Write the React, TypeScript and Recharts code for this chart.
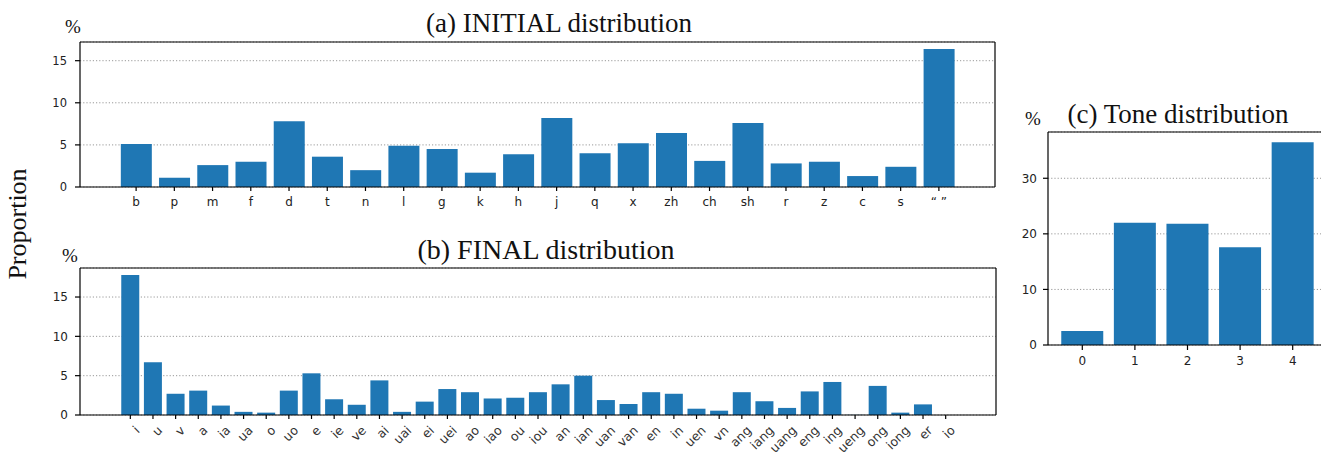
import React from "react";
import { BarChart, Bar, XAxis, YAxis, CartesianGrid } from "recharts";

const initials = ["b", "p", "m", "f", "d", "t", "n", "l", "g", "k", "h", "j", "q", "x", "zh", "ch", "sh", "r", "z", "c", "s", "“ ”"];
const initialValues = [5.1, 1.1, 2.6, 3.0, 7.8, 3.6, 2.0, 4.9, 4.5, 1.7, 3.9, 8.2, 4.0, 5.2, 6.4, 3.1, 7.6, 2.8, 3.0, 1.3, 2.4, 16.4];

const finals = [
  "i", "u", "v", "a", "ia", "ua", "o", "uo", "e", "ie", "ve", "ai", "uai", "ei", "uei", "ao", "iao", "ou", "iou",
  "an", "ian", "uan", "van", "en", "in", "uen", "vn", "ang", "iang", "uang", "eng", "ing", "ueng", "ong", "iong", "er", "io",
];
const finalValues = [
  17.8, 6.7, 2.7, 3.1, 1.2, 0.4, 0.3, 3.1, 5.3, 2.0, 1.3, 4.4, 0.4, 1.7, 3.3, 2.9, 2.1, 2.2, 2.9,
  3.9, 5.0, 1.9, 1.4, 2.9, 2.7, 0.8, 0.55, 2.9, 1.75, 0.9, 3.0, 4.2, 0.02, 3.7, 0.3, 1.35, 0,
];

const tones = ["0", "1", "2", "3", "4"];
const toneValues = [2.5, 22.0, 21.8, 17.6, 36.5];

const initialTicks = [0, 5, 10, 15];
const finalTicks = [0, 5, 10, 15];
const toneTicks = [0, 10, 20, 30];

const BLUE = "#1f77b4";
const SANS = '"DejaVu Sans", sans-serif';
const SERIF = '"Liberation Serif", "Times New Roman", serif';

const initialData = initials.map((name, i) => ({ name, value: initialValues[i] }));
const finalData = finals.map((name, i) => ({ name, value: finalValues[i] }));
const toneData = tones.map((name, i) => ({ name, value: toneValues[i] }));

const frame = { stroke: "#000", strokeWidth: 1.2 };
const tickText = { fontSize: 12, fill: "#222", fontFamily: SANS };
const autoTop = (max: number) => max * 1.05;

// slanted final labels: right end sits just beside the tick
const renderSlantTick = (props: any) => {
  const { x, y, payload } = props;
  return (
    <g transform={`translate(${x + 4},${y}) rotate(-45)`}>
      <text x={0} y={0} dy="0.7em" textAnchor="end" fontSize={12.5} fontFamily={SANS} fill="#333">
        {payload.value}
      </text>
    </g>
  );
};

// extra top / right axes only draw the box around the plot
const boxAxes = () => [
  <XAxis key="top" xAxisId="top" orientation="top" dataKey="name" height={1} tick={false} tickLine={false} axisLine={frame} />,
  <YAxis key="right" yAxisId="r" orientation="right" width={1} tick={false} tickLine={false} axisLine={frame} />,
];

export default function App() {
  return (
    <div style={{ position: "fixed", left: 0, top: 0, width: 1321, height: 454, overflow: "hidden", background: "#fff" }}>
      {/* (a) initials */}
      <div style={{ position: "absolute", left: 0, top: 0 }}>
        <BarChart width={1010} height={215} data={initialData} margin={{ top: 41, right: 14, bottom: 0, left: 0 }} barCategoryGap="10%">
          <CartesianGrid horizontal vertical={false} stroke="#999" strokeDasharray="1.2 2" />
          <XAxis dataKey="name" height={28} padding={{ left: 37, right: 37 }} interval={0} tickSize={4} tickMargin={6} tick={tickText} tickLine={frame} axisLine={frame} />
          <YAxis width={80} domain={[0, autoTop]} ticks={initialTicks} tickSize={5} tickMargin={8} tick={{ ...tickText, fontSize: 11.5 }} tickLine={frame} axisLine={frame} />
          {boxAxes()}
          <Bar dataKey="value" fill={BLUE} isAnimationActive={false} />
        </BarChart>
      </div>

      {/* (b) finals */}
      <div style={{ position: "absolute", left: 0, top: 240 }}>
        <BarChart width={1010} height={214} data={finalData} margin={{ top: 27, right: 13, bottom: 0, left: 0 }} barCategoryGap="10%">
          <CartesianGrid horizontal vertical={false} stroke="#999" strokeDasharray="1.2 2" />
          <XAxis
            dataKey="name"
            height={39}
            padding={{ left: 39, right: 39 }}
            interval={0}
            tickSize={4}
            tickMargin={6}
            tick={renderSlantTick}
            tickLine={frame}
            axisLine={frame}
          />
          <YAxis width={80} domain={[0, autoTop]} ticks={finalTicks} tickSize={5} tickMargin={7} tick={tickText} tickLine={frame} axisLine={frame} />
          {boxAxes()}
          <Bar dataKey="value" fill={BLUE} isAnimationActive={false} />
        </BarChart>
      </div>

      {/* (c) tones */}
      <div style={{ position: "absolute", left: 1000, top: 90 }}>
        <BarChart width={330} height={290} data={toneData} margin={{ top: 41, right: 2, bottom: 0, left: 0 }} barCategoryGap="10%">
          <CartesianGrid horizontal vertical={false} stroke="#999" strokeDasharray="1.2 2" />
          <XAxis dataKey="name" height={35} padding={{ left: 8, right: 8 }} interval={0} tickSize={5} tickMargin={6} tick={tickText} tickLine={frame} axisLine={frame} />
          <YAxis width={48} domain={[0, autoTop]} ticks={toneTicks} tickSize={5} tickMargin={6} tick={tickText} tickLine={frame} axisLine={frame} />
          {boxAxes()}
          <Bar dataKey="value" fill={BLUE} isAnimationActive={false} />
        </BarChart>
      </div>

      <svg width={1321} height={454} style={{ position: "absolute", left: 0, top: 0, pointerEvents: "none" }}>
        <g fontFamily={SERIF} fill="#111">
          <text x={559} y={32} fontSize={27} textAnchor="middle">(a) INITIAL distribution</text>
          <text x={546} y={259} fontSize={28} textAnchor="middle">(b) FINAL distribution</text>
          <text x={1178} y={123} fontSize={27} textAnchor="middle">(c) Tone distribution</text>
          <text x={65} y={33} fontSize={19}>%</text>
          <text x={62} y={262} fontSize={19}>%</text>
          <text x={1025} y={125} fontSize={19}>%</text>
          <text x={26} y={224} fontSize={26} textAnchor="middle" transform="rotate(-90, 26, 224)">Proportion</text>
        </g>
      </svg>
    </div>
  );
}
